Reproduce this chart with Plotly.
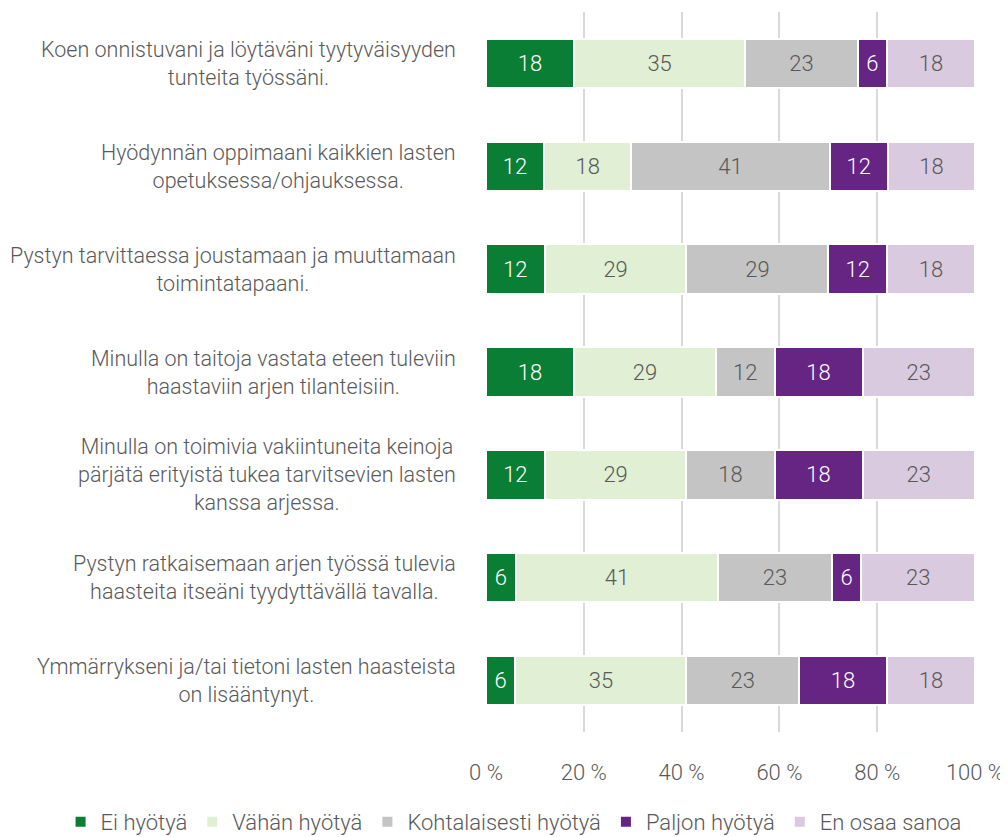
import plotly.graph_objects as go

# Statements (top to bottom)
statements = [
    "Koen onnistuvani ja löytäväni tyytyväisyyden<br>tunteita työssäni.",
    "Hyödynnän oppimaani kaikkien lasten<br>opetuksessa/ohjauksessa.",
    "Pystyn tarvittaessa joustamaan ja muuttamaan<br>toimintatapaani.",
    "Minulla on taitoja vastata eteen tuleviin<br>haastaviin arjen tilanteisiin.",
    "Minulla on toimivia vakiintuneita keinoja<br>pärjätä erityistä tukea tarvitsevien lasten<br>kanssa arjessa.",
    "Pystyn ratkaisemaan arjen työssä tulevia<br>haasteita itseäni tyydyttävällä tavalla.",
    "Ymmärrykseni ja/tai tietoni lasten haasteista<br>on lisääntynyt.",
]

# Percentages per answer option
ei_hyotya = [18, 12, 12, 18, 12, 6, 6]
vahan_hyotya = [35, 18, 29, 29, 29, 41, 35]
kohtalaisesti = [23, 41, 29, 12, 18, 23, 23]
paljon_hyotya = [6, 12, 12, 18, 18, 6, 18]
en_osaa = [18, 18, 18, 23, 23, 23, 18]

series = [
    ("Ei hyötyä", ei_hyotya, "#0B7E35", "white"),
    ("Vähän hyötyä", vahan_hyotya, "#E1EFD5", "#595959"),
    ("Kohtalaisesti hyötyä", kohtalaisesti, "#C4C4C4", "#595959"),
    ("Paljon hyötyä", paljon_hyotya, "#662483", "white"),
    ("En osaa sanoa", en_osaa, "#D9CADF", "#595959"),
]

FONT = "Roboto"
GREY = "#595959"

fig = go.Figure()
for name, vals, color, txtcolor in series:
    fig.add_trace(go.Bar(
        y=statements,
        x=vals,
        name=name,
        orientation="h",
        marker=dict(color=color, line=dict(color="white", width=2)),
        text=[str(v) for v in vals],
        texttemplate="%{text}",
        textposition="inside",
        insidetextanchor="middle",
        textangle=0,
        constraintext="none",
        textfont=dict(family=FONT, size=22, color=txtcolor, weight=300),
        hoverinfo="skip",
    ))

# Category labels as centred multi-line annotations left of the plot
for s in statements:
    fig.add_annotation(
        x=-0.057, xref="paper", xanchor="right",
        y=s, yref="y",
        text=s, showarrow=False, align="center",
        font=dict(family=FONT, size=21.5, color=GREY, weight=300),
    )

# page body has an 8px margin, so the figure is 8px smaller than the window
fig.update_layout(
    barmode="stack",
    barnorm="percent",
    bargap=0.52,
    width=1000,
    height=829,
    margin=dict(l=478, r=33, t=4, b=105, autoexpand=False),
    paper_bgcolor="white",
    plot_bgcolor="white",
    font=dict(family=FONT, size=22, color=GREY, weight=300),
    xaxis=dict(
        range=[0, 100],
        tick0=0,
        dtick=20,
        ticksuffix=" %",
        showgrid=True,
        gridcolor="#D9D9D9",
        gridwidth=1.5,
        zeroline=False,
        showline=False,
        ticklabelstandoff=25,
        tickfont=dict(family=FONT, size=22, color=GREY, weight=300),
    ),
    yaxis=dict(
        autorange="reversed",
        showgrid=False,
        showline=False,
        showticklabels=False,
        ticks="",
    ),
    legend=dict(
        orientation="h",
        xref="paper",
        yref="paper",
        x=-0.87,
        xanchor="left",
        y=-0.125,
        yanchor="middle",
        traceorder="normal",
        font=dict(family=FONT, size=22, color=GREY, weight=300),
    ),
    showlegend=True,
)

fig.write_html("out.html")
